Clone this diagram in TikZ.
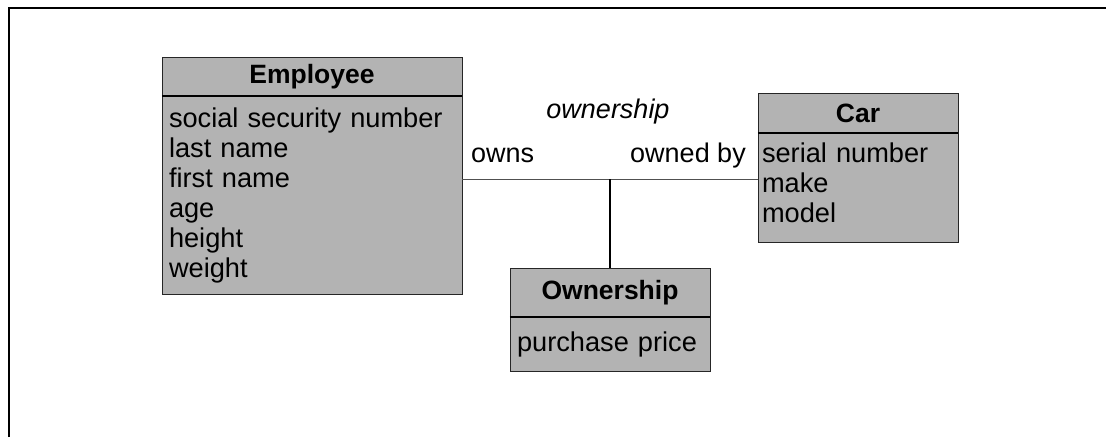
\documentclass[tikz,border=0pt]{standalone}
\usepackage{fontspec}
\setmainfont{Liberation Sans}
\usepackage{tikz}
\usetikzlibrary{positioning}

\definecolor{boxgray}{RGB}{179,179,179}
\definecolor{linkgray}{RGB}{80,80,80}

\begin{document}
\begin{tikzpicture}[x=1pt,y=1pt]

    % Custom styles for the class boxes and the role labels
    \tikzstyle{head} = [draw=black!85, fill=boxgray, inner sep=0pt, font=\fontsize{26.5}{30}\selectfont\bfseries]
    \tikzstyle{attrs} = [draw=black!85, fill=boxgray, align=left, inner ysep=0pt, font=\fontsize{27.2}{30}\selectfont]
    \tikzstyle{role} = [draw=none, fill=none, inner sep=0pt, font=\fontsize{27}{30}\selectfont]

    \useasboundingbox (0,0) rectangle (1106,-437);

    % Frame (only its top and left edges show)
    \draw[line width=2pt] (9,-437) -- (9,-8) -- (1106,-8);

    % Define classes
    \node[head, minimum width=300pt, minimum height=39pt] (employee) at (312,-76.5) {Employee};
    \node[attrs, inner xsep=7pt, text width=286pt, minimum height=198pt, below=0pt of employee] (employeeattr)
        {social security number\\last name\\first name\\age\\height\\weight};
    \node[head, minimum width=200pt, minimum height=40pt] (car) at (858,-113) {Car};
    \node[attrs, inner xsep=4pt, text width=192pt, minimum height=109pt, below=0pt of car] (carattr)
        {serial number\\make\\model\rule[-11pt]{0pt}{0pt}};
    \node[head, minimum width=200pt, minimum height=49pt] (ownership) at (610,-292.5) {Ownership};
    \node[attrs, inner xsep=7pt, text width=186pt, minimum height=54pt, below=0pt of ownership] (ownershipattr)
        {purchase price};

    \foreach \c in {employee,car,ownership}
        \draw[line width=1.5pt] (\c.south west) -- (\c.south east);

    % Connect classes
    \coordinate (link) at (ownership.north |- 0,-179);
    \draw[linkgray, line width=1pt] (link -| employeeattr.east) -- (link -| carattr.west);
    \draw[line width=2pt] (link) -- (ownership.north);

    % Role labels
    \node[role, font=\fontsize{27}{30}\selectfont\itshape, anchor=base] (relname) at (608,-118) {ownership};
    \node[role, anchor=base west] (ownslabel) at (471,-162) {owns};
    \node[role, anchor=base east] (ownedlabel) at (746,-162) {owned by};

\end{tikzpicture}
\end{document}
